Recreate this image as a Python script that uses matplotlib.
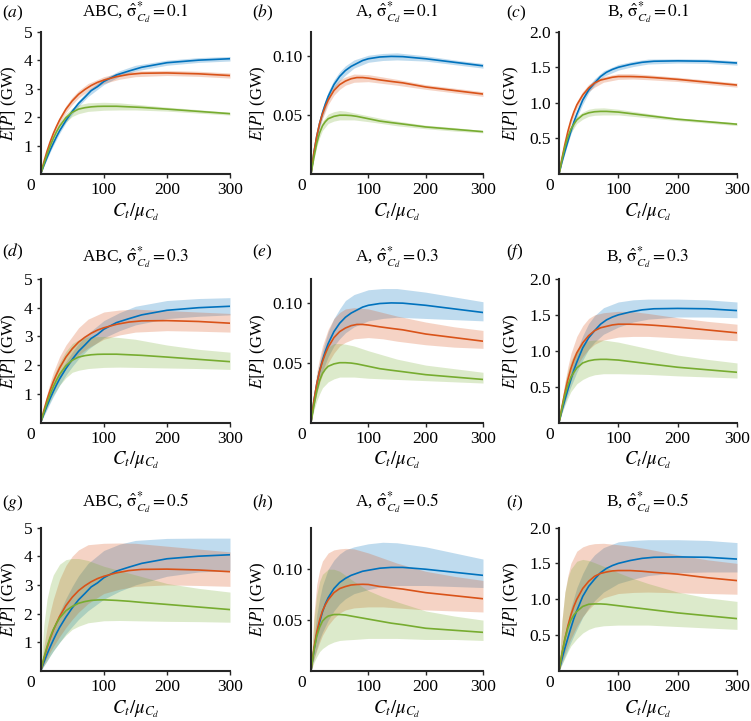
import numpy as np
import matplotlib
matplotlib.use('Agg')
import matplotlib.pyplot as plt

plt.rcParams['font.family'] = ['Liberation Serif', 'DejaVu Serif']
plt.rcParams['mathtext.fontset'] = 'stix'

### DATA

# x grid of the mean curves and of the bands
x_mean = [0, 5, 10, 15, 20, 25, 30, 40, 50, 60, 70, 80, 90, 100, 120, 140, 160, 200, 250, 300]
x_band = [0, 5, 10, 15, 20, 30, 40, 50, 60, 75, 100, 125, 150, 200, 250, 300]

# mean curves, column ABC
mABC_blue = [0, 0.30, 0.58, 0.84, 1.08, 1.31, 1.52, 1.88, 2.20, 2.48, 2.70, 2.93, 3.07, 3.25, 3.48, 3.62, 3.75, 3.91, 4.00, 4.05]
mABC_orange = [0, 0.42, 0.80, 1.13, 1.42, 1.67, 1.90, 2.28, 2.57, 2.80, 2.97, 3.11, 3.22, 3.30, 3.42, 3.50, 3.54, 3.55, 3.52, 3.46]
mABC_green = [0, 0.35, 0.68, 0.98, 1.25, 1.48, 1.68, 1.98, 2.17, 2.28, 2.33, 2.36, 2.375, 2.38, 2.38, 2.36, 2.34, 2.28, 2.20, 2.12]
mABC_green_05 = [0, 0.45, 0.85, 1.18, 1.45, 1.66, 1.85, 2.10, 2.25, 2.36, 2.42, 2.46, 2.475, 2.48, 2.46, 2.43, 2.39, 2.32, 2.23, 2.14]

# mean curves, column A
mA_blue = [0, 0.018, 0.032, 0.043, 0.052, 0.0595, 0.066, 0.076, 0.083, 0.088, 0.0915, 0.094, 0.0965, 0.098, 0.0995, 0.100, 0.0998, 0.098, 0.095, 0.092]
mA_orange = [0, 0.018, 0.032, 0.043, 0.051, 0.0575, 0.063, 0.071, 0.076, 0.079, 0.081, 0.082, 0.082, 0.0815, 0.080, 0.0787, 0.0775, 0.074, 0.071, 0.068]
mA_green = [0, 0.014, 0.026, 0.035, 0.041, 0.0445, 0.047, 0.049, 0.050, 0.050, 0.0497, 0.049, 0.048, 0.047, 0.045, 0.0437, 0.0425, 0.040, 0.038, 0.036]
mA_blue_05 = [0, 0.020, 0.036, 0.048, 0.058, 0.066, 0.072, 0.081, 0.087, 0.091, 0.094, 0.096, 0.098, 0.099, 0.101, 0.1018, 0.1018, 0.100, 0.097, 0.094]
mA_orange_05 = [0, 0.022, 0.038, 0.050, 0.059, 0.065, 0.070, 0.077, 0.081, 0.083, 0.0845, 0.085, 0.0852, 0.085, 0.083, 0.0818, 0.0805, 0.077, 0.074, 0.071]
mA_green_05 = [0, 0.020, 0.034, 0.043, 0.049, 0.052, 0.054, 0.0555, 0.0555, 0.055, 0.054, 0.053, 0.052, 0.051, 0.049, 0.047, 0.0455, 0.042, 0.040, 0.038]

# mean curves, column B
mB_blue = [0, 0.17, 0.32, 0.46, 0.60, 0.73, 0.84, 1.04, 1.18, 1.28, 1.37, 1.43, 1.47, 1.50, 1.54, 1.57, 1.585, 1.59, 1.585, 1.56]
mB_orange = [0, 0.22, 0.42, 0.60, 0.75, 0.87, 0.97, 1.11, 1.21, 1.28, 1.32, 1.34, 1.36, 1.37, 1.37, 1.365, 1.355, 1.33, 1.29, 1.25]
mB_green = [0, 0.20, 0.38, 0.52, 0.63, 0.70, 0.76, 0.83, 0.86, 0.875, 0.88, 0.88, 0.875, 0.87, 0.85, 0.83, 0.81, 0.77, 0.735, 0.70]
mB_orange_05 = [0, 0.24, 0.45, 0.63, 0.78, 0.90, 1.00, 1.15, 1.25, 1.32, 1.36, 1.38, 1.395, 1.40, 1.40, 1.39, 1.375, 1.35, 1.30, 1.26]
mB_green_05 = [0, 0.24, 0.45, 0.60, 0.71, 0.78, 0.83, 0.90, 0.93, 0.935, 0.935, 0.93, 0.92, 0.91, 0.89, 0.87, 0.85, 0.81, 0.77, 0.73]

# bands (lo, hi) on x_band, one dict per panel
band_a = {'blue': ([0, 0.27, 0.52, 0.77, 1.00, 1.43, 1.80, 2.10, 2.38, 2.72, 3.14, 3.43, 3.62, 3.82, 3.92, 3.97],
                   [0, 0.33, 0.64, 0.91, 1.16, 1.61, 2.00, 2.30, 2.58, 2.94, 3.36, 3.63, 3.82, 4.00, 4.09, 4.13]),
          'orange': ([0, 0.38, 0.72, 1.04, 1.32, 1.79, 2.16, 2.44, 2.67, 2.92, 3.18, 3.33, 3.42, 3.46, 3.43, 3.37],
                     [0, 0.46, 0.88, 1.22, 1.52, 2.01, 2.40, 2.70, 2.93, 3.18, 3.42, 3.55, 3.62, 3.64, 3.61, 3.55]),
          'green': ([0, 0.31, 0.60, 0.88, 1.14, 1.55, 1.83, 2.02, 2.12, 2.20, 2.24, 2.25, 2.25, 2.21, 2.14, 2.07],
                    [0, 0.40, 0.76, 1.08, 1.36, 1.81, 2.12, 2.32, 2.43, 2.50, 2.52, 2.50, 2.45, 2.35, 2.26, 2.17])}
band_d = {'blue': ([0, 0.23, 0.45, 0.68, 0.90, 1.30, 1.65, 1.95, 2.22, 2.55, 2.95, 3.20, 3.40, 3.62, 3.70, 3.75],
                   [0, 0.38, 0.72, 1.01, 1.28, 1.75, 2.12, 2.45, 2.75, 3.10, 3.55, 3.83, 4.05, 4.25, 4.32, 4.35]),
          'orange': ([0, 0.31, 0.60, 0.88, 1.15, 1.55, 1.88, 2.15, 2.35, 2.60, 2.90, 3.05, 3.15, 3.20, 3.18, 3.15],
                     [0, 0.55, 1.00, 1.40, 1.75, 2.30, 2.70, 3.00, 3.30, 3.60, 3.85, 3.92, 3.95, 3.90, 3.85, 3.80]),
          'green': ([0, 0.26, 0.50, 0.73, 0.95, 1.30, 1.56, 1.75, 1.82, 1.88, 1.92, 1.93, 1.92, 1.90, 1.88, 1.85],
                    [0, 0.50, 0.90, 1.28, 1.60, 2.10, 2.48, 2.75, 2.88, 2.98, 3.00, 2.96, 2.90, 2.70, 2.55, 2.45])}
band_g = {'blue': ([0, 0.18, 0.35, 0.53, 0.70, 1.00, 1.30, 1.55, 1.80, 2.10, 2.50, 2.78, 3.00, 3.30, 3.45, 3.50],
                   [0, 0.45, 0.85, 1.19, 1.50, 2.05, 2.53, 2.95, 3.32, 3.75, 4.20, 4.42, 4.55, 4.62, 4.63, 4.63]),
          'orange': ([0, 0.23, 0.45, 0.66, 0.85, 1.20, 1.52, 1.80, 2.05, 2.35, 2.70, 2.85, 2.95, 3.00, 2.98, 2.95],
                     [0, 0.85, 1.50, 2.05, 2.50, 3.20, 3.68, 4.00, 4.22, 4.40, 4.45, 4.46, 4.45, 4.35, 4.25, 4.15]),
          'green': ([0, 0.18, 0.35, 0.53, 0.70, 1.00, 1.25, 1.45, 1.56, 1.68, 1.75, 1.76, 1.75, 1.73, 1.72, 1.70],
                    [0, 1.60, 2.50, 3.00, 3.35, 3.72, 3.88, 3.92, 3.92, 3.85, 3.65, 3.50, 3.35, 3.05, 2.88, 2.75])}
band_b = {'blue': ([0, 0.016, 0.029, 0.039, 0.048, 0.062, 0.072, 0.079, 0.084, 0.090, 0.095, 0.0965, 0.097, 0.096, 0.093, 0.090],
                   [0, 0.019, 0.035, 0.047, 0.056, 0.070, 0.080, 0.087, 0.092, 0.097, 0.101, 0.1025, 0.103, 0.1005, 0.097, 0.094]),
          'orange': ([0, 0.016, 0.029, 0.039, 0.047, 0.059, 0.067, 0.072, 0.0755, 0.078, 0.0785, 0.077, 0.0755, 0.072, 0.069, 0.066],
                     [0, 0.019, 0.035, 0.047, 0.055, 0.067, 0.075, 0.080, 0.0825, 0.085, 0.0845, 0.0825, 0.0805, 0.076, 0.073, 0.070]),
          'green': ([0, 0.012, 0.023, 0.031, 0.037, 0.043, 0.045, 0.046, 0.046, 0.046, 0.0445, 0.0428, 0.041, 0.0385, 0.0365, 0.035],
                    [0, 0.016, 0.029, 0.038, 0.045, 0.051, 0.053, 0.054, 0.0535, 0.052, 0.0495, 0.047, 0.045, 0.0415, 0.0395, 0.037])}
band_e = {'blue': ([0, 0.014, 0.026, 0.035, 0.043, 0.055, 0.064, 0.070, 0.075, 0.080, 0.085, 0.087, 0.088, 0.087, 0.086, 0.085],
                   [0, 0.021, 0.038, 0.050, 0.060, 0.076, 0.087, 0.095, 0.102, 0.107, 0.111, 0.112, 0.112, 0.109, 0.105, 0.101]),
          'orange': ([0, 0.013, 0.024, 0.033, 0.040, 0.050, 0.058, 0.064, 0.067, 0.070, 0.071, 0.070, 0.068, 0.065, 0.063, 0.062],
                     [0, 0.024, 0.042, 0.054, 0.064, 0.078, 0.087, 0.092, 0.095, 0.096, 0.095, 0.092, 0.089, 0.084, 0.080, 0.077]),
          'green': ([0, 0.010, 0.018, 0.024, 0.029, 0.034, 0.0365, 0.038, 0.038, 0.038, 0.037, 0.0365, 0.036, 0.035, 0.034, 0.033],
                    [0, 0.022, 0.038, 0.048, 0.055, 0.063, 0.066, 0.066, 0.0655, 0.064, 0.060, 0.0565, 0.053, 0.048, 0.045, 0.042])}
band_h = {'blue': ([0, 0.012, 0.022, 0.031, 0.038, 0.050, 0.059, 0.066, 0.071, 0.076, 0.080, 0.083, 0.084, 0.084, 0.083, 0.082],
                   [0, 0.031, 0.055, 0.071, 0.084, 0.100, 0.109, 0.115, 0.119, 0.122, 0.125, 0.1265, 0.126, 0.122, 0.116, 0.110]),
          'orange': ([0, 0.011, 0.020, 0.028, 0.035, 0.045, 0.052, 0.057, 0.060, 0.062, 0.063, 0.063, 0.062, 0.060, 0.059, 0.058],
                     [0, 0.055, 0.085, 0.099, 0.108, 0.116, 0.119, 0.120, 0.1205, 0.120, 0.116, 0.111, 0.106, 0.098, 0.093, 0.089]),
          'green': ([0, 0.008, 0.014, 0.019, 0.022, 0.026, 0.0285, 0.030, 0.0305, 0.031, 0.032, 0.032, 0.032, 0.031, 0.031, 0.030],
                    [0, 0.050, 0.075, 0.088, 0.095, 0.100, 0.100, 0.098, 0.094, 0.088, 0.079, 0.073, 0.068, 0.059, 0.054, 0.050])}
band_c = {'blue': ([0, 0.15, 0.29, 0.43, 0.56, 0.79, 0.98, 1.14, 1.25, 1.37, 1.46, 1.51, 1.545, 1.56, 1.555, 1.53],
                   [0, 0.18, 0.35, 0.50, 0.64, 0.89, 1.08, 1.24, 1.34, 1.45, 1.54, 1.585, 1.615, 1.62, 1.615, 1.59]),
          'orange': ([0, 0.20, 0.38, 0.55, 0.70, 0.92, 1.06, 1.16, 1.22, 1.29, 1.33, 1.335, 1.325, 1.30, 1.26, 1.22],
                     [0, 0.24, 0.46, 0.64, 0.80, 1.02, 1.16, 1.26, 1.31, 1.37, 1.41, 1.41, 1.395, 1.36, 1.32, 1.28]),
          'green': ([0, 0.18, 0.34, 0.47, 0.58, 0.71, 0.77, 0.81, 0.825, 0.83, 0.83, 0.81, 0.79, 0.75, 0.715, 0.68],
                    [0, 0.22, 0.42, 0.56, 0.68, 0.81, 0.87, 0.91, 0.925, 0.93, 0.91, 0.88, 0.85, 0.79, 0.755, 0.72])}
band_f = {'blue': ([0, 0.14, 0.27, 0.39, 0.50, 0.70, 0.87, 1.02, 1.12, 1.23, 1.33, 1.40, 1.44, 1.47, 1.47, 1.46],
                   [0, 0.20, 0.38, 0.56, 0.72, 1.00, 1.21, 1.38, 1.49, 1.60, 1.68, 1.71, 1.72, 1.72, 1.71, 1.68]),
          'orange': ([0, 0.16, 0.30, 0.45, 0.58, 0.78, 0.92, 1.02, 1.09, 1.15, 1.19, 1.20, 1.20, 1.18, 1.16, 1.14],
                     [0, 0.31, 0.56, 0.78, 0.96, 1.20, 1.35, 1.45, 1.50, 1.53, 1.55, 1.545, 1.52, 1.46, 1.41, 1.37]),
          'green': ([0, 0.13, 0.24, 0.34, 0.43, 0.54, 0.60, 0.64, 0.665, 0.68, 0.68, 0.675, 0.67, 0.65, 0.635, 0.62],
                    [0, 0.31, 0.55, 0.72, 0.86, 1.02, 1.10, 1.14, 1.15, 1.15, 1.12, 1.075, 1.03, 0.94, 0.88, 0.83])}
band_i = {'blue': ([0, 0.10, 0.20, 0.30, 0.40, 0.58, 0.75, 0.88, 0.98, 1.10, 1.22, 1.28, 1.33, 1.37, 1.38, 1.38],
                   [0, 0.26, 0.48, 0.69, 0.88, 1.16, 1.36, 1.52, 1.62, 1.72, 1.80, 1.82, 1.83, 1.83, 1.82, 1.79]),
          'orange': ([0, 0.13, 0.25, 0.36, 0.45, 0.62, 0.76, 0.86, 0.94, 1.02, 1.08, 1.095, 1.10, 1.09, 1.08, 1.07],
                     [0, 0.70, 1.10, 1.33, 1.50, 1.67, 1.73, 1.76, 1.775, 1.78, 1.76, 1.735, 1.70, 1.62, 1.55, 1.50]),
          'green': ([0, 0.09, 0.18, 0.27, 0.35, 0.45, 0.53, 0.58, 0.61, 0.63, 0.64, 0.64, 0.64, 0.62, 0.60, 0.58],
                    [0, 0.70, 1.10, 1.30, 1.42, 1.53, 1.555, 1.54, 1.51, 1.46, 1.37, 1.29, 1.22, 1.10, 1.02, 0.97])}

sigmas = [0.1, 0.3, 0.5]
cols = ['ABC', 'A', 'B']
letters = [['a', 'b', 'c'], ['d', 'e', 'f'], ['g', 'h', 'i']]

means = {('ABC', 0.1): (mABC_blue, mABC_orange, mABC_green),
         ('ABC', 0.3): (mABC_blue, mABC_orange, mABC_green),
         ('ABC', 0.5): (mABC_blue, mABC_orange, mABC_green_05),
         ('A', 0.1): (mA_blue, mA_orange, mA_green),
         ('A', 0.3): (mA_blue, mA_orange, mA_green),
         ('A', 0.5): (mA_blue_05, mA_orange_05, mA_green_05),
         ('B', 0.1): (mB_blue, mB_orange, mB_green),
         ('B', 0.3): (mB_blue, mB_orange, mB_green),
         ('B', 0.5): (mB_blue, mB_orange_05, mB_green_05)}
bands = {('ABC', 0.1): band_a, ('ABC', 0.3): band_d, ('ABC', 0.5): band_g,
         ('A', 0.1): band_b, ('A', 0.3): band_e, ('A', 0.5): band_h,
         ('B', 0.1): band_c, ('B', 0.3): band_f, ('B', 0.5): band_i}

yticks = {'ABC': [1, 2, 3, 4, 5], 'A': [0.05, 0.10], 'B': [0.5, 1.0, 1.5, 2.0]}
ytlabels = {'ABC': ['1', '2', '3', '4', '5'], 'A': ['0.05', '0.10'], 'B': ['0.5', '1.0', '1.5', '2.0']}
ytop = {('ABC', 0.1): 5, ('ABC', 0.3): 4.5, ('ABC', 0.5): 5,
        ('A', 0.1): 0.121, ('A', 0.3): 0.12, ('A', 0.5): 0.141,
        ('B', 0.1): 2.0, ('B', 0.3): 2.0, ('B', 0.5): 2.0}

colors = {'blue': '#0072BD', 'orange': '#D95319', 'green': '#77AC30'}

### LAYOUT (pixels)

W, H = 751, 721
col_x = [(40.7, 230), (311, 483), (559, 737)]
row_y = [(31.7, 174), (279, 422.5), (527.5, 671)]
ylab_x = [-0.115, -0.25, -0.215]   # right edge of y label, axes fraction
label_y = [13, 252, 503]
title_y = [13, 258, 503]
label_x = [2, 252, 506]

fig = plt.figure(figsize=(W / 100, H / 100), dpi=100)

for r, s in enumerate(sigmas):
    for c, name in enumerate(cols):
        x0, x1 = col_x[c]
        y0, y1 = row_y[r]
        ax = fig.add_axes([x0 / W, 1 - y1 / H, (x1 - x0) / W, (y1 - y0) / H])
        bd = bands[(name, s)]
        for k in ['blue', 'orange', 'green']:
            lo, hi = bd[k]
            ax.fill_between(x_band, lo, hi, color=colors[k], alpha=0.25, lw=0)
        for k, m in zip(['blue', 'orange', 'green'], means[(name, s)]):
            ax.plot(x_mean, m, color=colors[k], lw=1.2)
        ax.set_xlim(0, 300)
        ax.set_ylim(0, ytop[(name, s)])
        ax.set_xticks([100, 200, 300])
        ax.set_yticks(yticks[name])
        ax.set_yticklabels(ytlabels[name])
        for sp in ['top', 'right']:
            ax.spines[sp].set_visible(False)
        for sp in ['left', 'bottom']:
            ax.spines[sp].set_color('#262626')
            ax.spines[sp].set_linewidth(1.5)
        ax.tick_params(direction='out', length=3, width=1, color='#262626',
                       labelsize=12.5, pad=3)
        ax.annotate('0', xy=(0, 0), xycoords='axes fraction', xytext=(-7, -3),
                    textcoords='offset points', ha='center', va='top', fontsize=12.5)
        ax.set_xlabel(r'$C_t/\mu_{C_d}$', fontsize=13.5, labelpad=2)
        ax.set_ylabel(r'$E[P]$ (GW)', fontsize=12)
        ax.yaxis.set_label_coords(ylab_x[c], 0.5)
        fig.text((x0 + x1) / 2 / W, 1 - title_y[r] / H,
                 name + r', $\hat{\mathrm{\sigma}}^{*}_{C_d} = %.1f$' % s,
                 ha='center', va='center', fontsize=12.5)
        fig.text(label_x[c] / W, 1 - label_y[r] / H,
                 r'($\it{%s}$)' % letters[r][c],
                 ha='left', va='center', fontsize=12.5)

fig.savefig('out.png', dpi=100)
